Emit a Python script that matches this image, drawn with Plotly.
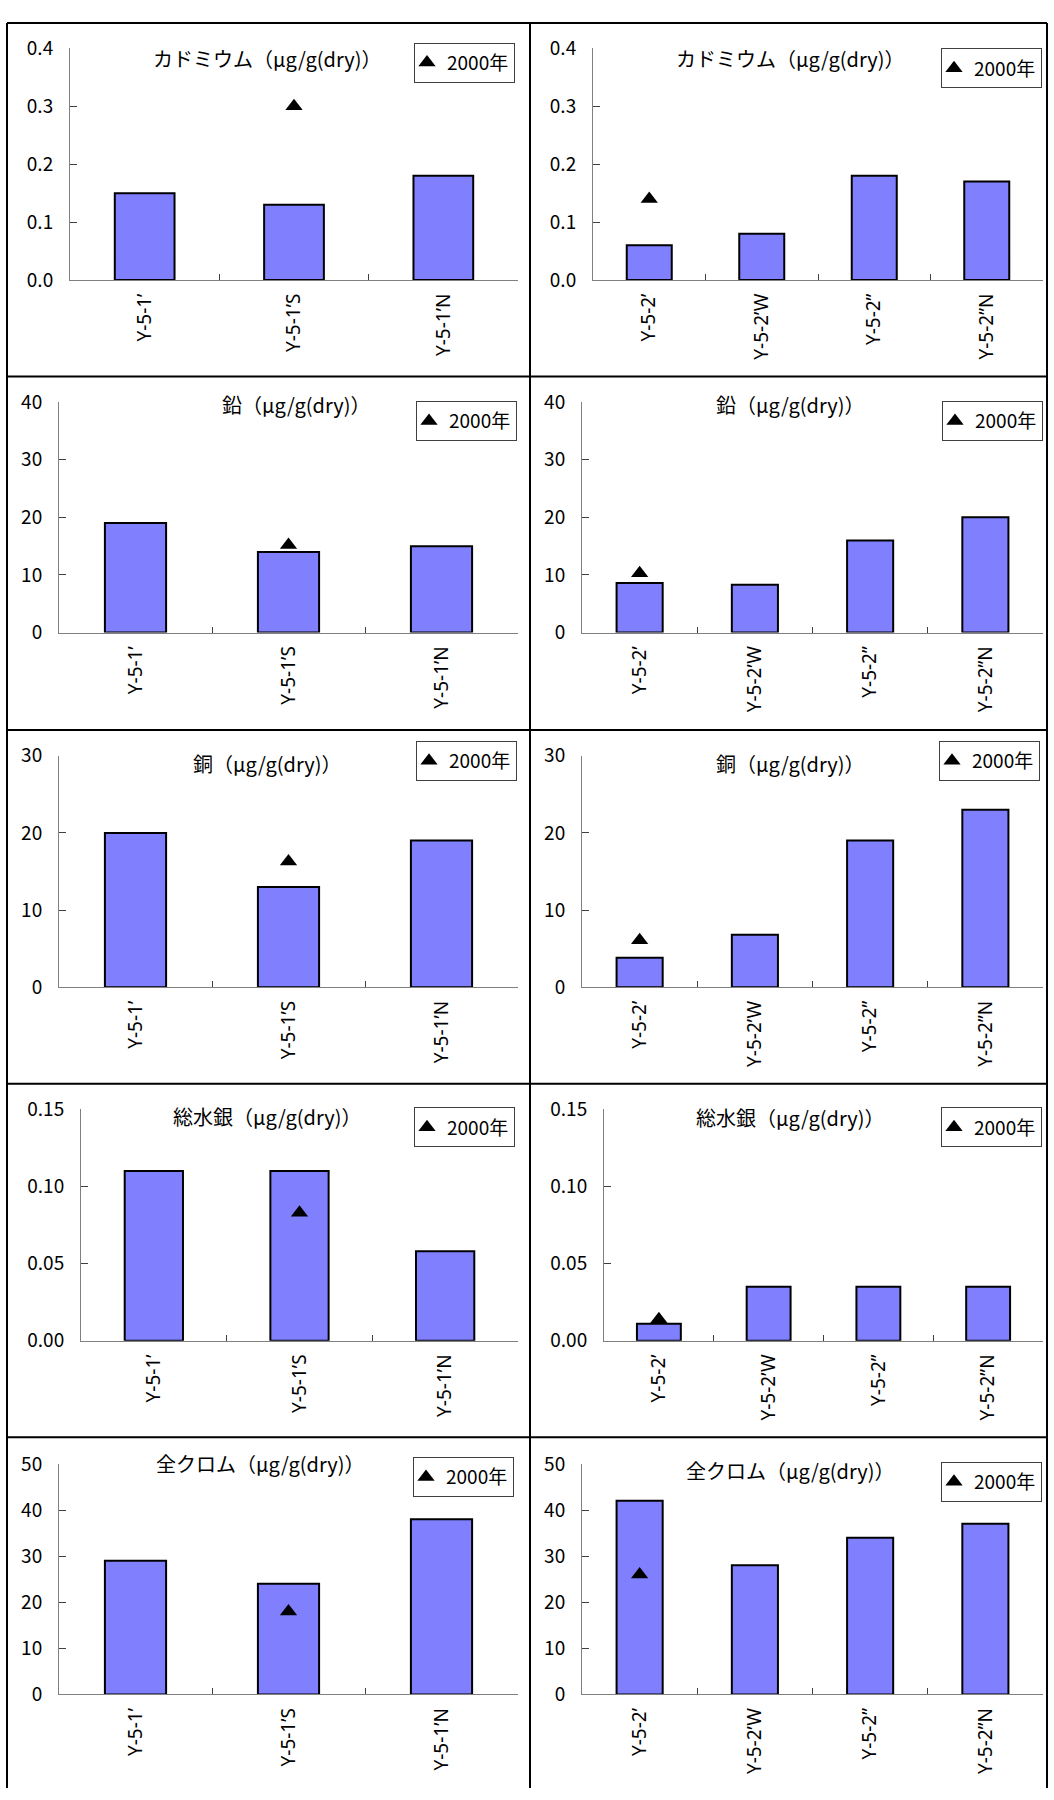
import plotly.graph_objects as go

# ---------------- data ----------------
cats_left = ["Y-5-1’", "Y-5-1’S", "Y-5-1’N"]
cats_right = ["Y-5-2’", "Y-5-2’W", "Y-5-2”", "Y-5-2”N"]

titles = [
    "カドミウム（μg/g(dry)）",
    "鉛（μg/g(dry)）",
    "銅（μg/g(dry)）",
    "総水銀（μg/g(dry)）",
    "全クロム（μg/g(dry)）",
]
legend_name = "2000年"

y_max = [0.4, 40, 30, 0.15, 50]
y_dtick = [0.1, 10, 10, 0.05, 10]
y_fmt = [".1f", "d", "d", ".2f", "d"]

cd_left = [0.15, 0.13, 0.18]
cd_left_2000 = [None, 0.30, None]
cd_right = [0.06, 0.08, 0.18, 0.17]
cd_right_2000 = [0.14, None, None, None]

pb_left = [19, 14, 15]
pb_left_2000 = [None, 15.2, None]
pb_right = [8.6, 8.3, 16, 20]
pb_right_2000 = [10.3, None, None, None]

cu_left = [20, 13, 19]
cu_left_2000 = [None, 16.3, None]
cu_right = [3.8, 6.8, 19, 23]
cu_right_2000 = [6.1, None, None, None]

hg_left = [0.11, 0.11, 0.058]
hg_left_2000 = [None, 0.083, None]
hg_right = [0.011, 0.035, 0.035, 0.035]
hg_right_2000 = [0.014, None, None, None]

cr_left = [29, 24, 38]
cr_left_2000 = [None, 18, None]
cr_right = [42, 28, 34, 37]
cr_right_2000 = [26, None, None, None]

left_bars = [cd_left, pb_left, cu_left, hg_left, cr_left]
left_pts = [cd_left_2000, pb_left_2000, cu_left_2000, hg_left_2000, cr_left_2000]
right_bars = [cd_right, pb_right, cu_right, hg_right, cr_right]
right_pts = [cd_right_2000, pb_right_2000, cu_right_2000, hg_right_2000, cr_right_2000]

# ---------------- geometry (pixels) ----------------
W, H = 1054, 1800
left_x0 = [70, 59, 59, 81, 59]
right_x0 = [593, 582, 582, 604, 582]
left_x1, right_x1 = 518, 1043
top_px = [34, 393, 752, 1111, 1471]
zero_px = [269, 627, 987, 1346, 1705]
legend_left = [(515, 28), (517, 392), (517, 737), (515, 1109), (514, 1464)]
legend_right = [(1042, 34), (1043, 392), (1040, 737), (1042, 1109), (1042, 1469)]
title_left = [(267, 44), (296, 395), (267, 760), (267, 1118), (260, 1471)]
title_right = [(790, 44), (790, 395), (790, 760), (790, 1119), (790, 1478)]
row_lines = [8, 367, 726, 1085, 1444]
col_lines = [7, 530, 1047]

FONT = "Noto Sans CJK JP"
LATIN = "Noto Sans, Noto Sans CJK JP"
BAR_FILL = "#8080FF"


def px_x(v):
    return v / W


def px_y(v):
    return 1 - v / H


fig = go.Figure()
annotations = []
layout_axes = {}
legends = {}

panels = []
for r in range(5):
    panels.append((r, 0, cats_left, left_bars[r], left_pts[r], left_x0[r], left_x1,
                   legend_left[r], title_left[r]))
    panels.append((r, 1, cats_right, right_bars[r], right_pts[r], right_x0[r], right_x1,
                   legend_right[r], title_right[r]))

for i, (r, c, cats, bars, pts, x0, x1, leg, tit) in enumerate(panels):
    n = i + 1
    xa = "x" if n == 1 else f"x{n}"
    ya = "y" if n == 1 else f"y{n}"
    xkey = "xaxis" if n == 1 else f"xaxis{n}"
    ykey = "yaxis" if n == 1 else f"yaxis{n}"
    lkey = "legend" if n == 1 else f"legend{n}"

    fig.add_trace(go.Bar(
        x=cats, y=bars, xaxis=xa, yaxis=ya,
        marker=dict(color=BAR_FILL, line=dict(color="black", width=2)),
        width=0.4, showlegend=False, hoverinfo="x+y",
    ))
    fig.add_trace(go.Scatter(
        x=cats, y=pts, xaxis=xa, yaxis=ya, mode="markers", name=legend_name,
        marker=dict(symbol="triangle-up", size=15, color="black"),
        showlegend=True, legend=lkey, cliponaxis=False,
    ))

    layout_axes[xkey] = dict(
        domain=[px_x(x0), px_x(x1)], anchor=ya, type="category",
        showline=True, linecolor="#808080", linewidth=1,
        ticks="inside", ticklen=6, tickcolor="#404040", tickson="boundaries",
        tickangle=-90, tickfont=dict(family=LATIN, size=19, color="black"),
        showgrid=False, zeroline=False, ticklabelstandoff=5,
    )
    layout_axes[ykey] = dict(
        domain=[px_y(zero_px[r]), px_y(top_px[r])], anchor=xa,
        range=[0, y_max[r]], dtick=y_dtick[r], tick0=0, tickformat=y_fmt[r],
        showline=True, linecolor="#808080", linewidth=1,
        ticks="inside", ticklen=7, tickcolor="#404040",
        tickfont=dict(family=FONT, size=19, color="black"),
        showgrid=False, zeroline=False, ticklabelstandoff=12,
    )
    legends[lkey] = dict(
        x=px_x(leg[0]), xanchor="right", y=px_y(leg[1]), yanchor="top",
        bgcolor="white", bordercolor="#404040", borderwidth=1,
        font=dict(family=FONT, size=19, color="black"),
        itemwidth=30, indentation=-8,
    )
    annotations.append(dict(
        text=titles[r], x=px_x(tit[0]), y=px_y(tit[1]), xref="paper", yref="paper",
        xanchor="center", yanchor="middle", showarrow=False,
        font=dict(family=FONT, size=20, color="black"),
    ))

shapes = []
for yl in row_lines:
    shapes.append(dict(type="line", xref="paper", yref="paper",
                       x0=px_x(col_lines[0]), x1=px_x(col_lines[-1]),
                       y0=px_y(yl), y1=px_y(yl), line=dict(color="black", width=2)))
for xl in col_lines:
    shapes.append(dict(type="line", xref="paper", yref="paper",
                       x0=px_x(xl), x1=px_x(xl), y0=px_y(row_lines[0]), y1=0,
                       line=dict(color="black", width=2)))

fig.update_layout(
    width=W, height=H, autosize=False,
    margin=dict(l=0, r=0, t=0, b=0),
    paper_bgcolor="white", plot_bgcolor="white",
    font=dict(family=FONT, color="black"),
    bargap=0.6, showlegend=True,
    annotations=annotations, shapes=shapes,
    **layout_axes, **legends,
)

fig.write_html("out.html", config={"displayModeBar": False},
               post_script="document.body.style.margin='0px';")
